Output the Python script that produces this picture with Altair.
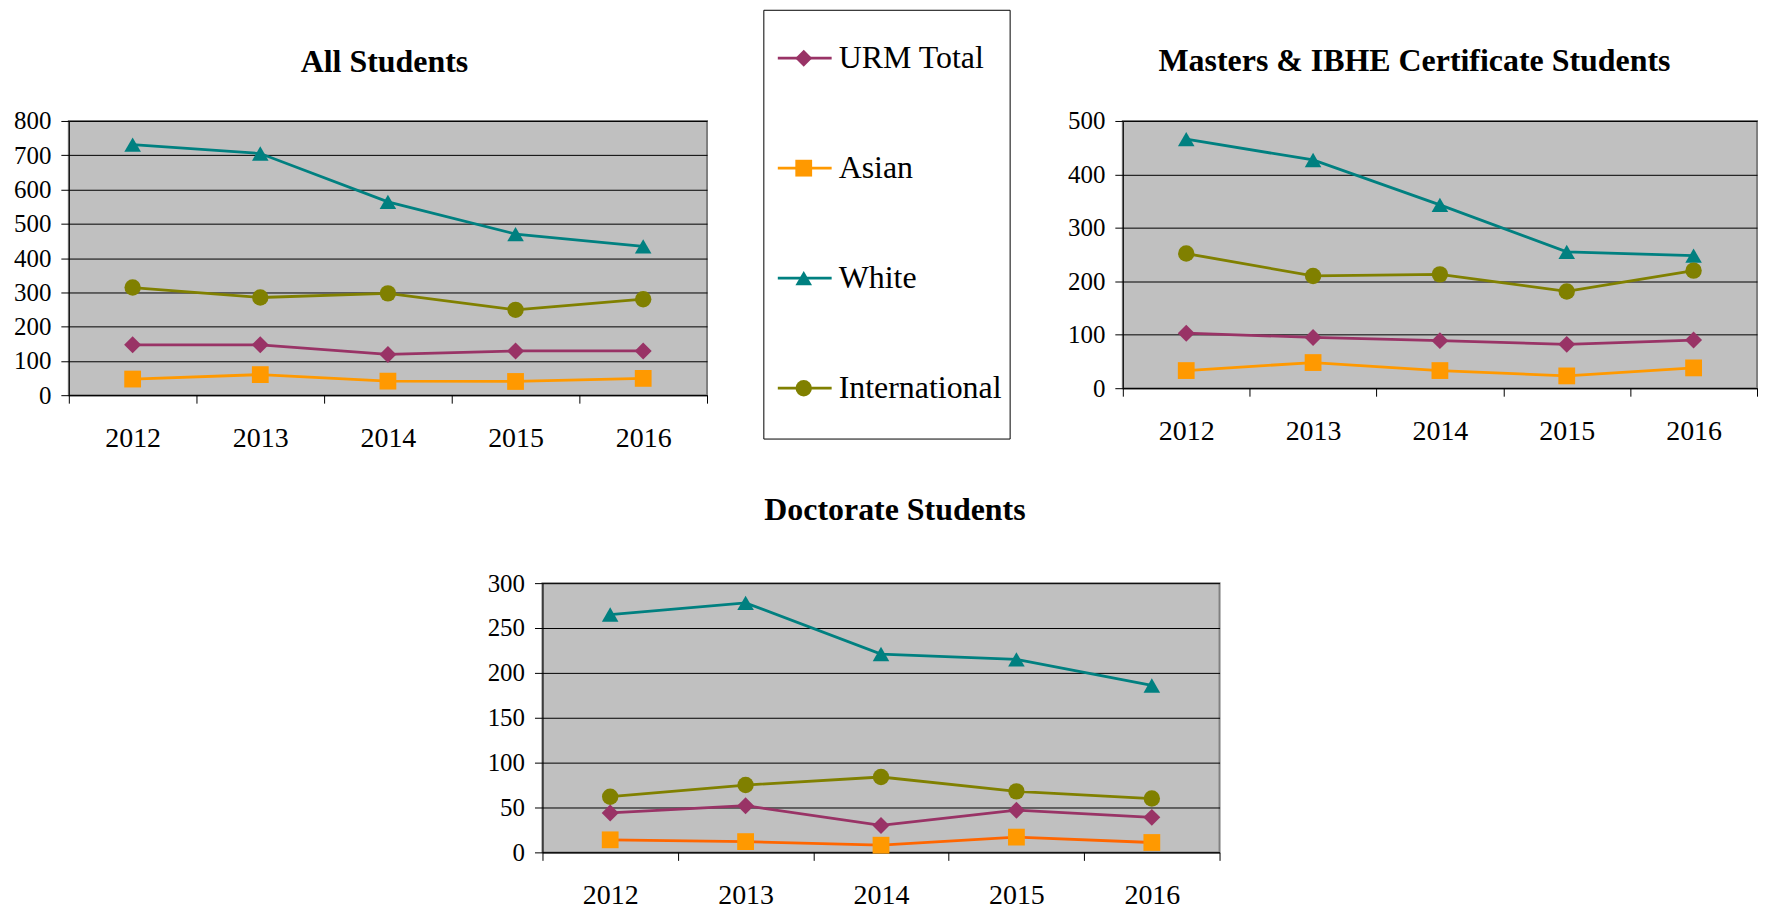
import altair as alt
import pandas as pd

years = ["2012", "2013", "2014", "2015", "2016"]
series = ["URM Total", "Asian", "White", "International"]

all_urm = [147, 147, 119, 129, 129]
all_asian = [47, 60, 41, 40, 49]
all_white = [731, 705, 564, 470, 434]
all_intl = [314, 285, 297, 249, 280]

ms_urm = [103, 95, 89, 82, 90]
ms_asian = [33, 48, 33, 23, 38]
ms_white = [466, 427, 343, 255, 248]
ms_intl = [252, 210, 213, 181, 220]

doc_urm = [44, 52, 30, 47, 39]
doc_asian = [14, 12, 8, 17, 11]
doc_white = [265, 278, 221, 215, 186]
doc_intl = [62, 75, 84, 68, 60]

colors = ["#993366", "#FF9900", "#008080", "#808000"]
doc_line_colors = ["#993366", "#FF6600", "#008080", "#808000"]
shapes = ["diamond", "square", "triangle-up", "circle"]
sizes = [290, 270, 330, 290]

FONT = "Liberation Serif"


def frame(vals):
    rows = []
    for s, v in zip(series, vals):
        for y, n in zip(years, v):
            rows.append({"year": y, "series": s, "value": n})
    return pd.DataFrame(rows)


def panel(df, title, ymax, ystep, width, height, dx, offset, line_colors):
    x = alt.X("year:O", title=None,
              scale=alt.Scale(type="band", paddingInner=0, paddingOuter=0),
              bandPosition=0.5,
              axis=alt.Axis(tickBand="extent", grid=False, labelAngle=0,
                            tickSize=8, labelPadding=21, labelFont=FONT,
                            labelFontSize=28, labelColor="black",
                            domainColor="black", tickColor="black"))
    y = alt.Y("value:Q", title=None,
              scale=alt.Scale(domain=[0, ymax], nice=False, zero=True),
              axis=alt.Axis(values=list(range(0, ymax + 1, ystep)), grid=True,
                            gridColor="black", gridWidth=1, tickSize=8,
                            labelPadding=10, labelFont=FONT, labelFontSize=25,
                            labelColor="black", domainColor="black",
                            tickColor="black"))
    base = alt.Chart(df)
    lines = base.mark_line(strokeWidth=2.8).encode(
        x=x, y=y,
        stroke=alt.Stroke("series:N", scale=alt.Scale(domain=series, range=line_colors), legend=None),
        detail="series:N",
    )
    pts = base.mark_point(filled=True, opacity=1).encode(
        x=x, y=y,
        color=alt.Color("series:N", scale=alt.Scale(domain=series, range=colors), legend=None),
        shape=alt.Shape("series:N", scale=alt.Scale(domain=series, range=shapes), legend=None),
        size=alt.Size("series:N", scale=alt.Scale(domain=series, range=sizes), legend=None),
    )
    return alt.layer(lines, pts).properties(
        width=width, height=height,
        title=alt.TitleParams(title, font=FONT, fontSize=32, fontWeight="bold",
                              color="black", anchor="middle", frame="group",
                              dx=dx, offset=offset, baseline="alphabetic"),
        view=alt.ViewBackground(fill="#C0C0C0", stroke="#808080", strokeWidth=2),
    )


p1 = panel(frame([all_urm, all_asian, all_white, all_intl]), "All Students",
           800, 100, 640, 275, -3.5, 5, colors)
p2 = panel(frame([ms_urm, ms_asian, ms_white, ms_intl]),
           "Masters & IBHE Certificate Students", 500, 100, 636, 268, -25.5, 6, colors)
p3 = panel(frame([doc_urm, doc_asian, doc_white, doc_intl]), "Doctorate Students",
           300, 50, 679, 270, 14, 19, doc_line_colors)

# legend panel
leg_df = pd.DataFrame({"series": series})
box_df = pd.DataFrame({"k": [0]})
ly = alt.Y("series:N", axis=None,
           scale=alt.Scale(type="point", domain=series, range=[-63, 268], padding=0))
box = alt.Chart(box_df).mark_rect(fill="white", stroke="black", strokeWidth=1).encode(
    x=alt.value(0), x2=alt.value(247), y=alt.value(-111), y2=alt.value(319))
lrule = alt.Chart(leg_df).mark_rule(strokeWidth=2.8).encode(
    x=alt.value(14), x2=alt.value(68), y=ly,
    color=alt.Color("series:N", scale=alt.Scale(domain=series, range=colors), legend=None))
lpts = alt.Chart(leg_df).mark_point(filled=True, opacity=1).encode(
    x=alt.value(40), y=ly,
    color=alt.Color("series:N", scale=alt.Scale(domain=series, range=colors), legend=None),
    shape=alt.Shape("series:N", scale=alt.Scale(domain=series, range=shapes), legend=None),
    size=alt.Size("series:N", scale=alt.Scale(domain=series, range=sizes), legend=None))
ltxt = alt.Chart(leg_df).mark_text(align="left", baseline="middle", font=FONT,
                                   fontSize=32, color="black").encode(
    x=alt.value(75), y=ly, text="series:N")
legend = alt.layer(box, lrule, lpts, ltxt).properties(width=249, height=319)

spacer = alt.Chart(box_df).mark_point(opacity=0).encode(
    x=alt.value(0), y=alt.value(0)).properties(width=364, height=1)

res = dict(color="independent", shape="independent", stroke="independent",
           size="independent")
top = alt.hconcat(p1, legend, p2, spacing=54).resolve_scale(**res)
bottom = alt.hconcat(spacer, p3, spacing=54).resolve_scale(**res)

chart = alt.vconcat(top, bottom, spacing=40.5).resolve_scale(**res).configure_view(
    stroke=None
).properties(
    padding={"left": 4, "top": 0, "right": 0, "bottom": -5},
    background="white",
)

chart.save("out.html", embed_options={"renderer": "svg", "actions": False})
